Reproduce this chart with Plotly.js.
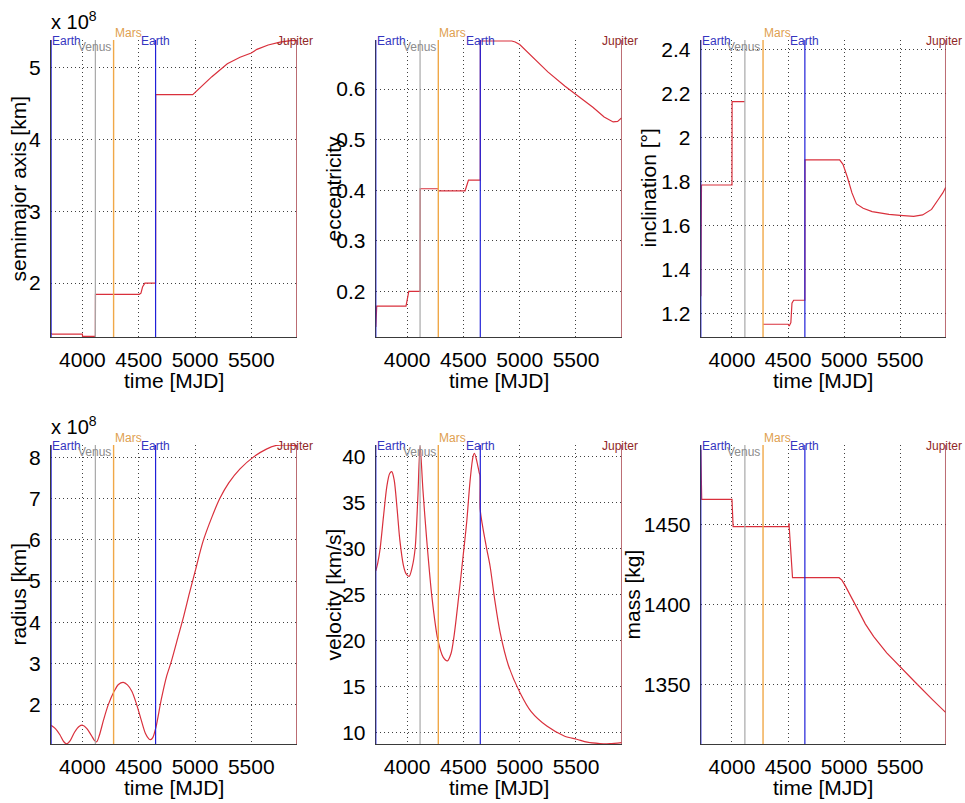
<!DOCTYPE html>
<html><head><meta charset="utf-8">
<script src="https://cdn.plot.ly/plotly-3.0.1.min.js"></script>
<style>html,body{margin:0;padding:0;background:#fff}#chart{width:965px;height:803px}</style>
</head><body><div id="chart"></div>
<script>
// ---------- data ----------
const planetNames = ['Earth', 'Venus', 'Mars', 'Earth', 'Jupiter'];
const planetTimes = [3722, 4115, 4277, 4650, 5905];

const xTicks = [4000, 4500, 5000, 5500];

// semimajor axis [1e8 km]
const smaTime = [3722, 3730, 4000, 4001, 4115, 4116, 4505, 4520, 4535, 4555, 4650, 4651, 4980, 5050, 5150, 5287, 5400, 5500, 5550, 5650, 5755, 5850, 5905];
const smaVal  = [1.30, 1.29, 1.29, 1.26, 1.26, 1.843, 1.843, 1.86, 1.95, 2.0, 2.0, 4.62, 4.62, 4.72, 4.87, 5.05, 5.14, 5.20, 5.25, 5.31, 5.35, 5.37, 5.375];
const smaTicks = [2, 3, 4, 5];

// eccentricity
const eccTime = [3722, 3723, 3730, 3990, 4005, 4015, 4115, 4116, 4277, 4280, 4515, 4535, 4545, 4650, 4651, 4930, 4960, 5000, 5100, 5250, 5400, 5500, 5650, 5750, 5830, 5870, 5905];
const eccVal  = [0.13, 0.16, 0.171, 0.171, 0.19, 0.2, 0.2, 0.403, 0.403, 0.399, 0.399, 0.415, 0.42, 0.42, 0.695, 0.695, 0.693, 0.688, 0.666, 0.634, 0.606, 0.589, 0.564, 0.545, 0.535, 0.536, 0.543];
const eccTicks = [0.2, 0.3, 0.4, 0.5, 0.6];

// inclination [deg]
const incTime = [3722, 3724, 3726, 3728, 4000, 4001, 4115, 4200, 4277, 4500, 4510, 4525, 4535, 4550, 4650, 4651, 4960, 4990, 5030, 5070, 5110, 5170, 5250, 5400, 5500, 5620, 5700, 5780, 5840, 5880, 5905];
const incVal  = [1.28, 1.40, 1.60, 1.786, 1.786, 2.165, 2.165, null, 1.153, 1.153, 1.145, 1.16, 1.249, 1.262, 1.262, 1.90, 1.90, 1.88, 1.82, 1.75, 1.70, 1.68, 1.665, 1.652, 1.648, 1.643, 1.65, 1.675, 1.72, 1.75, 1.775];
const incTicks = [1.2, 1.4, 1.6, 1.8, 2.0, 2.2, 2.4];

// radius [1e8 km]
const radTime = [3722, 3760, 3800, 3835, 3861, 3890, 3930, 3970, 4003, 4040, 4080, 4110, 4127, 4150, 4190, 4230, 4283, 4320, 4363, 4400, 4440, 4480, 4520, 4560, 4590, 4605, 4625, 4653, 4700, 4747, 4790, 4850, 4900, 4950, 5000, 5070, 5150, 5220, 5300, 5400, 5515, 5634, 5723, 5800, 5905];
const radVal  = [1.50, 1.42, 1.27, 1.10, 1.05, 1.12, 1.33, 1.47, 1.50, 1.42, 1.25, 1.12, 1.10, 1.25, 1.65, 2.00, 2.33, 2.49, 2.54, 2.48, 2.32, 2.02, 1.65, 1.30, 1.17, 1.15, 1.20, 1.45, 2.12, 2.68, 3.05, 3.65, 4.15, 4.70, 5.22, 5.95, 6.55, 7.00, 7.38, 7.72, 8.00, 8.20, 8.29, 8.30, 8.28];
const radTicks = [2, 3, 4, 5, 6, 7, 8];

// velocity [km/s]
const velTime = [3722, 3740, 3760, 3790, 3820, 3845, 3864, 3885, 3910, 3935, 3967, 3990, 4018, 4045, 4071, 4095, 4115, 4140, 4174, 4220, 4273, 4320, 4358, 4390, 4420, 4460, 4500, 4530, 4560, 4585, 4598, 4620, 4640, 4647, 4649, 4670, 4707, 4737, 4780, 4826, 4900, 5004, 5100, 5241, 5400, 5507, 5600, 5712, 5800, 5905];
const velVal  = [27.6, 28.5, 30.0, 33.5, 36.8, 38.2, 38.4, 37.5, 34.5, 31.0, 28.2, 27.3, 27.0, 28.0, 30.0, 35.5, 41.2, 36.5, 31.0, 24.8, 20.1, 18.2, 17.8, 18.6, 20.8, 25.0, 29.5, 33.0, 37.5, 40.0, 40.4, 39.5, 38.3, 38.0, 34.3, 32.5, 30.0, 28.1, 24.3, 20.9, 17.3, 14.3, 12.3, 10.7, 9.6, 9.27, 8.95, 8.8, 8.78, 8.9];
const velTicks = [10, 15, 20, 25, 30, 35, 40];

// mass [kg]
const massTime = [3722, 3723, 3726, 3730, 4000, 4005, 4010, 4505, 4508, 4512, 4520, 4533, 4540, 4955, 4980, 5006, 5060, 5124, 5190, 5264, 5380, 5495, 5643, 5790, 5905];
const massVal  = [1497, 1485, 1470, 1466, 1466, 1455, 1449, 1449, 1451, 1447, 1440, 1428, 1417, 1417, 1415.5, 1412.5, 1405, 1396.9, 1388, 1380.2, 1370, 1361.5, 1351, 1340.6, 1332.8];
const massTicks = [1350, 1400, 1450];

// ---------- style / layout ----------
const W = 965, H = 803;
const FONT = 'Arial, "Liberation Sans", sans-serif';
const FS = 21;
const planetLineColors = ['#2020d8', '#a8a8a8', '#f0a848', '#2020d8', '#a0303a'];
const planetTextColors = ['#3535c0', '#8c8c8c', '#e0a050', '#3535c0', '#902828'];
const planetAnchor = ['left', 'center', 'left', 'center', 'center'];
const planetYShift = [-1, -7, 7, -1, -1];
const planetXShift = [0, -1, 0, 0, -2];

const cols = [[51, 297], [375.7, 621.7], [700.7, 945.7]];
const rows = [[40, 337], [445, 744]];
const xRange = [3721, 5906];

const panels = [
  {t: smaTime, v: smaVal, ticks: smaTicks, range: [1.25, 5.38], title: 'semimajor axis [km]', col: 0, row: 0, titleX: 18, exp: true, shape: 'linear'},
  {t: eccTime, v: eccVal, ticks: eccTicks, range: [0.11, 0.697], title: 'eccentricity', col: 1, row: 0, titleX: 333, shape: 'linear'},
  {t: incTime, v: incVal, ticks: incTicks, range: [1.095, 2.445], title: 'inclination [°]', col: 2, row: 0, titleX: 648, shape: 'linear'},
  {t: radTime, v: radVal, ticks: radTicks, range: [1.045, 8.30], title: 'radius [km]', col: 0, row: 1, titleX: 18, exp: true, shape: 'spline'},
  {t: velTime, v: velVal, ticks: velTicks, range: [8.75, 41.3], title: 'velocity [km/s]', col: 1, row: 1, titleX: 333, shape: 'spline'},
  {t: massTime, v: massVal, ticks: massTicks, range: [1313, 1500], title: 'mass [kg]', col: 2, row: 1, titleX: 632, shape: 'linear'}
];

const traces = [];
const shapes = [];
const annotations = [];
const layout = {
  width: W, height: H,
  margin: {l: 0, r: 0, t: 0, b: 0},
  paper_bgcolor: '#fff', plot_bgcolor: '#fff',
  showlegend: false,
  font: {family: FONT, size: FS, color: '#000'}
};

panels.forEach((p, i) => {
  const n = i + 1;
  const xa = n === 1 ? 'x' : 'x' + n;
  const ya = n === 1 ? 'y' : 'y' + n;
  const xk = n === 1 ? 'xaxis' : 'xaxis' + n;
  const yk = n === 1 ? 'yaxis' : 'yaxis' + n;
  const c = cols[p.col], r = rows[p.row];
  layout[xk] = {
    domain: [c[0] / W, c[1] / W], anchor: ya, range: xRange,
    tickvals: xTicks, ticktext: xTicks.map(String),
    showgrid: true, gridcolor: '#404040', griddash: '1px,3px', gridwidth: 1,
    showline: true, linecolor: '#3a3a3a', linewidth: 1, mirror: false,
    zeroline: false, ticks: '', ticklabelstandoff: 4,
    tickfont: {family: FONT, size: FS, color: '#000'}
  };
  layout[yk] = {
    domain: [1 - r[1] / H, 1 - r[0] / H], anchor: xa, range: p.range,
    tickvals: p.ticks,
    showgrid: true, gridcolor: '#404040', griddash: '1px,3px', gridwidth: 1,
    showline: true, linecolor: '#3a3a3a', linewidth: 1, mirror: false,
    zeroline: false, ticks: '', ticklabelstandoff: 5,
    tickfont: {family: FONT, size: FS, color: '#000'}
  };
  traces.push({
    type: 'scatter', mode: 'lines', x: p.t, y: p.v, xaxis: xa, yaxis: ya,
    connectgaps: false,
    line: {color: '#d9303c', width: 1.2, shape: p.shape, smoothing: 0.8},
    hoverinfo: 'skip'
  });
  planetTimes.forEach((pt, k) => {
    shapes.push({
      type: 'line', xref: xa, yref: ya + ' domain', x0: pt, x1: pt, y0: 0, y1: 1,
      line: {color: planetLineColors[k], width: k === 2 ? 1.4 : 1.2}, layer: 'above'
    });
    annotations.push({
      xref: xa, yref: ya + ' domain', x: pt, y: 1, text: planetNames[k],
      showarrow: false, xanchor: planetAnchor[k], yanchor: 'middle',
      yshift: planetYShift[k], xshift: planetXShift[k], borderpad: 0,
      font: {family: FONT, size: 12, color: planetTextColors[k]}
    });
  });
  // y title
  annotations.push({
    xref: 'paper', yref: 'paper', x: p.titleX / W, y: 1 - (r[0] + r[1]) / 2 / H,
    text: p.title, textangle: -90, showarrow: false, xanchor: 'center', yanchor: 'middle',
    font: {family: FONT, size: FS, color: '#000'}
  });
  // x title
  annotations.push({
    xref: 'paper', yref: 'paper', x: (c[0] + c[1]) / 2 / W, y: 1 - (r[1] + 43) / H,
    text: 'time [MJD]', showarrow: false, xanchor: 'center', yanchor: 'middle',
    font: {family: FONT, size: FS, color: '#000'}
  });
  if (p.exp) {
    annotations.push({
      xref: 'paper', yref: 'paper', x: (c[0] - 1) / W, y: 1 - (r[0] - 6) / H,
      text: 'x 10<sup>8</sup>', showarrow: false, xanchor: 'left', yanchor: 'bottom',
      borderpad: 0, font: {family: FONT, size: 20, color: '#000'}
    });
  }
});

layout.shapes = shapes;
layout.annotations = annotations;

Plotly.newPlot('chart', traces, layout, {staticPlot: true, displayModeBar: false});
</script>
</body></html>
